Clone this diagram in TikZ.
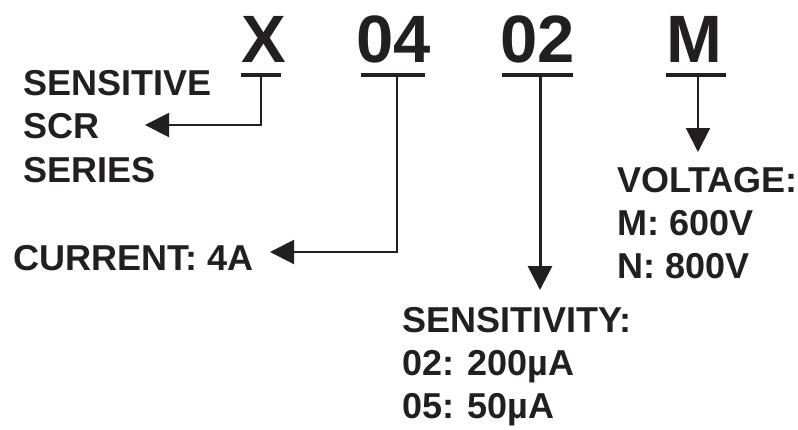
\documentclass[tikz,border=0pt]{standalone}
\usepackage{fontspec}
\setmainfont{Liberation Sans}
\usetikzlibrary{arrows.meta}
\definecolor{ink}{RGB}{35,31,32}
\begin{document}
\begin{tikzpicture}[x=1pt,y=-1pt,
  big/.style={font=\bfseries\fontsize{67}{67}\selectfont, text=ink, inner sep=0pt, anchor=base},
  lbl/.style={font=\bfseries\fontsize{36}{43}\selectfont, text=ink, inner sep=0pt, anchor=base west},
  bar/.style={draw=ink, line width=4pt},
  conn/.style={draw=ink, line width=2pt, -{Triangle[length=24pt,width=24pt]}}]
\useasboundingbox (0,0) rectangle (798,429);
% code letters
\node[big] (cX) at (264,62) {X};
\node[big] (c04) at (394,62) {04};
\node[big] (c02) at (538,62) {02};
\node[big] (cM) at (694,62) {M};
% underline bars
\coordinate (bXl) at (241,75); \coordinate (bXr) at (281,75);
\coordinate (b04l) at (361,75); \coordinate (b04r) at (425,75);
\coordinate (b02l) at (502,75); \coordinate (b02r) at (573,75);
\coordinate (bMl) at (666,75); \coordinate (bMr) at (726,75);
\draw[bar] (bXl) -- (bXr);
\draw[bar] (b04l) -- (b04r);
\draw[bar] (b02l) -- (b02r);
\draw[bar] (bMl) -- (bMr);
% labels
\node[lbl] (sens) at (23,95) {SENSITIVE};
\node[lbl] (scr) at (23,138) {SCR};
\node[lbl] (ser) at (23,182) {SERIES};
\node[lbl] (cur) at (13,270) {CURRENT: 4A};
\node[lbl] (vol) at (617,192) {VOLTAGE:};
\node[lbl] (m6) at (617,235) {M: 600V};
\node[lbl] (n8) at (617,278) {N: 800V};
\node[lbl] (sty) at (402,332) {SENSITIVITY:};
\node[lbl] (s02) at (402,375) {02: 200µA};
\node[lbl] (s05) at (402,418) {05: 50µA};
% connector ends
\coordinate (sX) at (261,75);  \coordinate (tX) at (145,125);
\coordinate (s04) at (397,75); \coordinate (t04) at (270,252);
\coordinate (s02) at (540,75); \coordinate (t02) at (540,290);
\coordinate (sM) at (698,75);  \coordinate (tM) at (698,152);
\draw[conn] (sX) |- (tX);
\draw[conn] (s04) |- (t04);
\draw[conn, line width=3pt] (s02) -- (t02);
\draw[conn] (sM) -- (tM);
\end{tikzpicture}
\end{document}
